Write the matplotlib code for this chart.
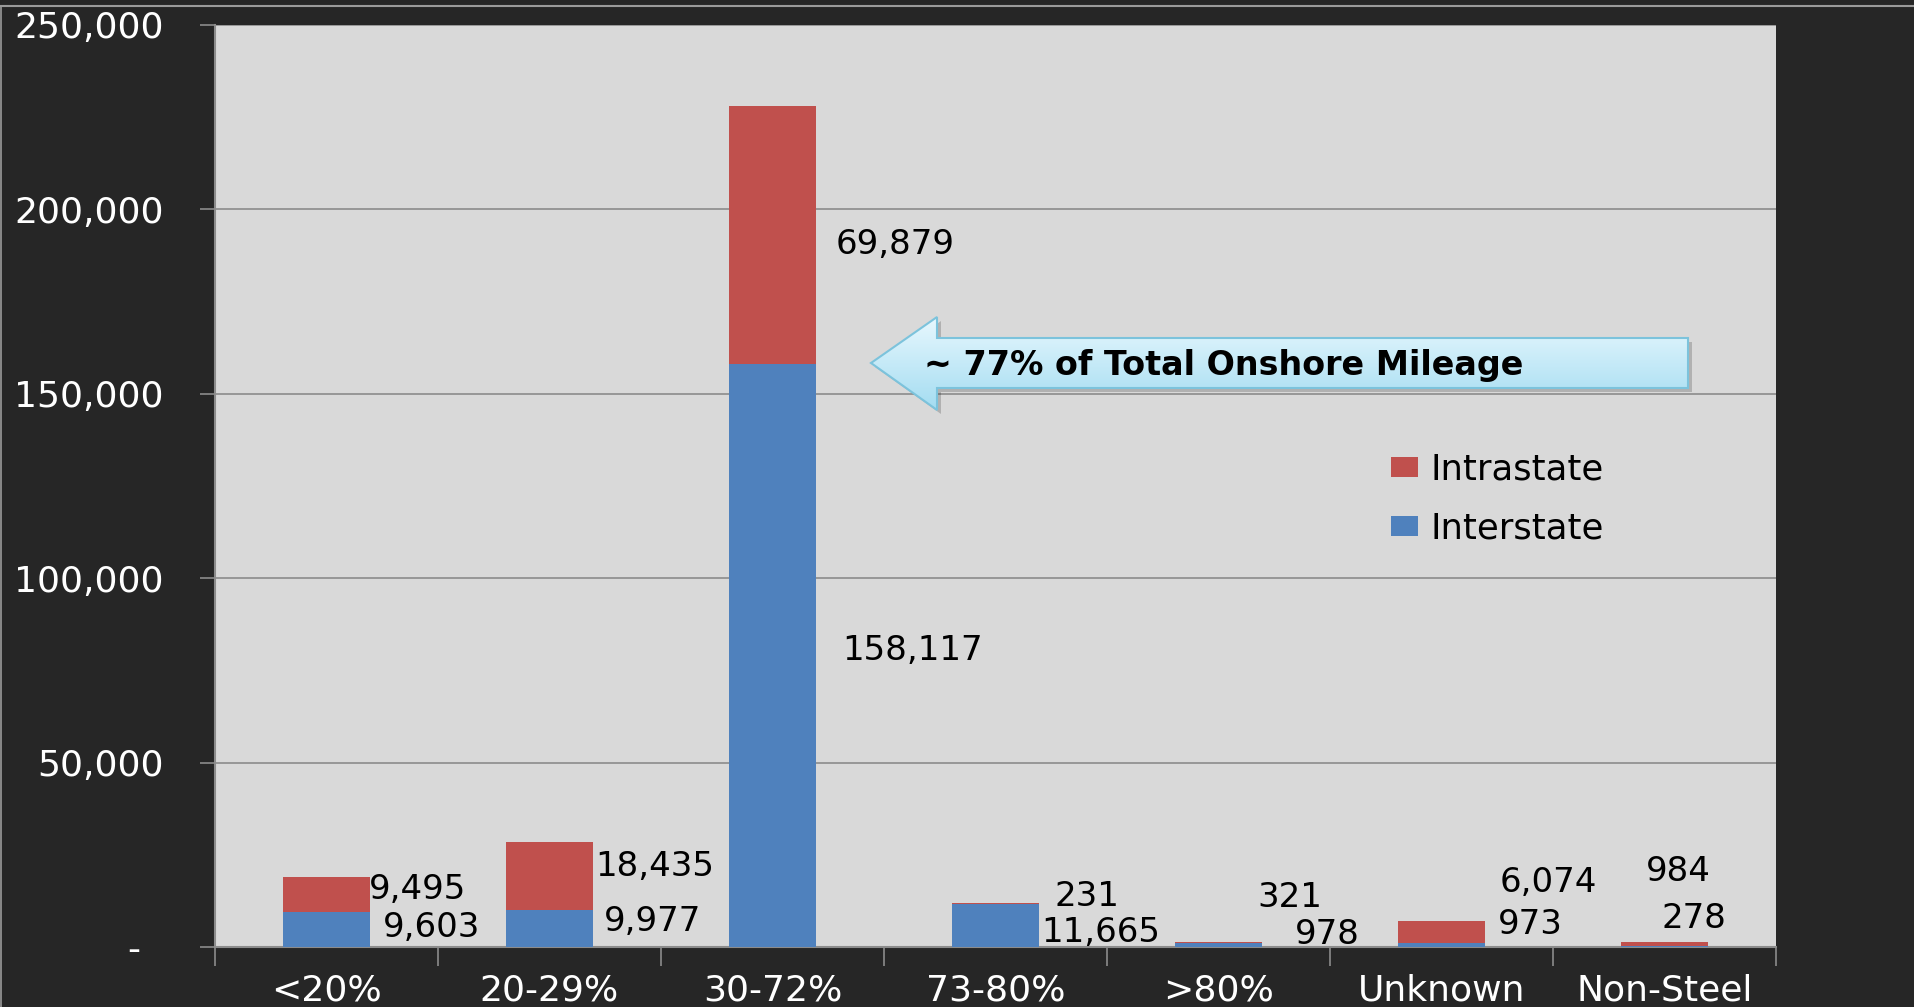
import numpy as np
import matplotlib
matplotlib.use("Agg")
import matplotlib.pyplot as plt
from matplotlib.patches import Polygon
from matplotlib.lines import Line2D
from matplotlib.ticker import FuncFormatter

# datos
categorias = ["<20%", "20-29%", "30-72%", "73-80%", ">80%", "Unknown", "Non-Steel"]
interstate = [9603, 9977, 158117, 11665, 978, 973, 278]
intrastate = [9495, 18435, 69879, 231, 321, 6074, 984]
yticks = [0, 50000, 100000, 150000, 200000, 250000]

# donde va cada etiqueta (desplazamiento x en categorias, altura y)
pos_inter = [(0.47, 5400), (0.46, 6800), (0.63, 80300), (0.47, 3800), (0.49, 3300), (0.40, 6200), (0.13, 7700)]
pos_intra = [(0.41, 15500), (0.47, 21700), (0.55, 190600), (0.41, 13800), (0.32, 13300), (0.48, 17600), (0.06, 20400)]

azul = "#4f81bd"
rojo = "#c0504d"
gris = "#8c8c8c"
fondo = "#262626"

W, H = 1915, 1007
fig = plt.figure(figsize=(W / 100, H / 100), dpi=100, facecolor=fondo)
ax = fig.add_axes([215 / W, 60 / H, 1561 / W, 922 / H])
ax.set_facecolor("#d9d9d9")

x = np.arange(len(categorias))
b1 = ax.bar(x, interstate, width=0.39, color=azul, label="Interstate", zorder=3)
b2 = ax.bar(x, intrastate, width=0.39, bottom=interstate, color=rojo, label="Intrastate", zorder=3)

for i in range(len(categorias)):
    dx, yy = pos_inter[i]
    ax.text(i + dx, yy, f"{interstate[i]:,}", fontsize=24.5, color="black", ha="center", va="center", zorder=5)
    dx, yy = pos_intra[i]
    ax.text(i + dx, yy, f"{intrastate[i]:,}", fontsize=24.5, color="black", ha="center", va="center", zorder=5)

ax.set_xlim(-0.5, 6.5)
ax.set_ylim(0, 250000)
ax.set_yticks(yticks)
ax.yaxis.set_major_formatter(FuncFormatter(lambda v, p: "-  " if v == 0 else f"{v:,.0f}"))
ax.grid(axis="y", color=gris, linewidth=1.2, zorder=0)
ax.set_axisbelow(True)

ax.set_xticks(x)
ax.set_xticklabels(categorias)
ax.set_xticks(np.arange(-0.5, 7, 1), minor=True)
ax.tick_params(axis="x", which="major", length=0, pad=19, labelsize=26, labelcolor="white")
ax.tick_params(axis="x", which="minor", length=13.5, width=1.2, color=gris, direction="out")
ax.tick_params(axis="y", length=10.8, width=1.2, color=gris, pad=26, labelsize=26, labelcolor="white")

for s in ["top", "right"]:
    ax.spines[s].set_visible(False)
for s in ["left", "bottom"]:
    ax.spines[s].set_color(gris)
    ax.spines[s].set_linewidth(1.5)

# leyenda (Intrastate arriba)
ax.legend([b2, b1], ["Intrastate", "Interstate"], loc="center left", bbox_to_anchor=(0.733, 0.486),
          frameon=False, fontsize=25.5, handlelength=0.75, handleheight=0.5, handletextpad=0.35,
          labelspacing=0.7)

# flecha de anotacion
def px(xp, yp):
    return ((xp - 215) / 1561, (947 - yp) / 922)

pts = [px(871, 363), px(937, 317), px(937, 338), px(1688, 338), px(1688, 388),
       px(937, 388), px(937, 410)]
sombra = Polygon([(a + 4 / 1561, b - 4 / 922) for a, b in pts], closed=True, transform=ax.transAxes,
                 facecolor="black", alpha=0.18, edgecolor="none", zorder=6)
ax.add_patch(sombra)
flecha = Polygon(pts, closed=True, transform=ax.transAxes, facecolor="none",
                 edgecolor="#7cc3dc", linewidth=1.5, zorder=8)
ax.add_patch(flecha)
grad = np.linspace(0, 1, 256).reshape(-1, 1)
cmap = matplotlib.colors.LinearSegmentedColormap.from_list("c", ["#e8f8fe", "#a3dcf1"])
x0, y1 = px(871, 317)
x1, y0 = px(1688, 410)
img = ax.imshow(grad, cmap=cmap, extent=[x0, x1, y0, y1], transform=ax.transAxes,
                aspect="auto", zorder=7, origin="upper")
img.set_clip_path(flecha)
tx, ty = px(924, 365)
ax.text(tx, ty, "~ 77% of Total Onshore Mileage", transform=ax.transAxes, fontsize=24,
        fontweight="bold", color="black", ha="left", va="center", zorder=9)

# borde del recorte de pantalla
fig.add_artist(Line2D([0, 1], [1 - 6 / H, 1 - 6 / H], transform=fig.transFigure, color="#9a9a9a", linewidth=1.5))
fig.add_artist(Line2D([1 / W, 1 / W], [0, 1 - 6 / H], transform=fig.transFigure, color="#9a9a9a", linewidth=1.2))

fig.savefig("out.png", dpi=100, facecolor=fondo)
